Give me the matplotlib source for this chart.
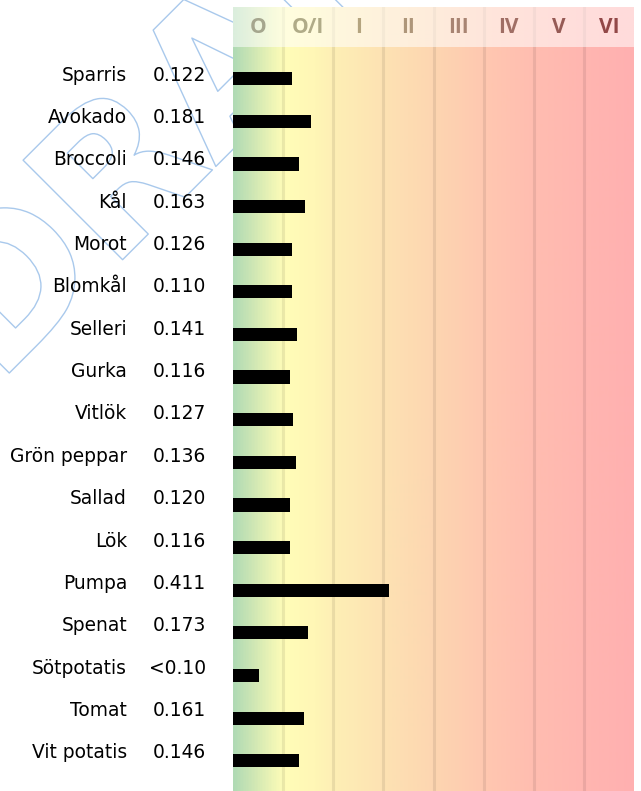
import numpy as np
import matplotlib
matplotlib.use("Agg")
import matplotlib.pyplot as plt
from matplotlib.colors import LinearSegmentedColormap, Normalize
from matplotlib.patches import Rectangle
from matplotlib import patheffects
from matplotlib.transforms import blended_transform_factory

names = ["Sparris", "Avokado", "Broccoli", "Kål", "Morot", "Blomkål", "Selleri",
         "Gurka", "Vitlök", "Grön peppar", "Sallad", "Lök", "Pumpa", "Spenat",
         "Sötpotatis", "Tomat", "Vit potatis"]
value_labels = ["0.122", "0.181", "0.146", "0.163", "0.126", "0.110", "0.141",
                "0.116", "0.127", "0.136", "0.120", "0.116", "0.411", "0.173",
                "<0.10", "0.161", "0.146"]
# bar length in class-column units
bar_len = [1.17, 1.55, 1.31, 1.43, 1.18, 1.18, 1.27, 1.13, 1.20, 1.25, 1.14,
           1.13, 3.11, 1.50, 0.51, 1.42, 1.31]

classes = ["O", "O/I", "I", "II", "III", "IV", "V", "VI"]
class_colors = ["#a5a68e", "#b0ab88", "#b4a47f", "#ae967a", "#a88472", "#a06e65",
                "#965a55", "#924848"]

bg_cmap = LinearSegmentedColormap.from_list("bg", [
    (0 / 8, "#b0dab4"), (0.5 / 8, "#d8ebb4"), (1 / 8, "#fffdb8"),
    (1.6 / 8, "#fff7b6"), (2 / 8, "#feefb5"), (3 / 8, "#fde2b3"),
    (4 / 8, "#fdd6b1"), (5 / 8, "#ffc8b0"), (6 / 8, "#ffbdb0"),
    (7 / 8, "#ffb6b0"), (8 / 8, "#ffb0b0")])

W, H = 641, 791
fig = plt.figure(figsize=(W / 100, H / 100), dpi=100)

# watermark behind everything
fig.text(0.334, 0.883, "DRAFT", rotation=45, ha="center", va="center",
         fontsize=139, fontweight="bold", color="none", zorder=-1,
         path_effects=[patheffects.Stroke(linewidth=1, foreground="#a9c9ec")])

ax = fig.add_axes([233 / W, 0, 401 / W, 1 - 47 / H])
hx = fig.add_axes([233 / W, 1 - 47 / H, 401 / W, 40 / H])

grad = np.linspace(0, 8, 400).reshape(1, -1)
y_top, y_bot = -0.744, 16.71
ax.imshow(grad, cmap=bg_cmap, norm=Normalize(0, 8), aspect="auto",
          extent=(0, 8, y_bot, y_top), zorder=0)
hx.imshow(grad, cmap=bg_cmap, norm=Normalize(0, 8), aspect="auto",
          extent=(0, 8, 0, 1), zorder=0)

for k in range(1, 8):
    ax.axvline(k, color="black", alpha=0.08, lw=2.2, zorder=1)
    hx.axvline(k, color="black", alpha=0.08, lw=2.2, zorder=1)

hx.add_patch(Rectangle((0, 0), 8, 1, facecolor="white", alpha=0.55,
                       edgecolor="none", zorder=2))
for k, c in enumerate(classes):
    hx.text(k + 0.5, 0.48, c, ha="center", va="center", fontsize=15,
            fontweight="bold", family="Open Sans", color=class_colors[k], zorder=3)

ypos = np.arange(len(names))
ax.barh(ypos, bar_len, height=0.31, color="black", zorder=3)

trans = blended_transform_factory(fig.transFigure, ax.transData)
for i in range(len(names)):
    ty = i * 0.994 - 0.087
    ax.text(127 / W, ty, names[i], transform=trans, ha="right",
            va="center", fontsize=13.4, clip_on=False)
    ax.text(206 / W, ty, value_labels[i], transform=trans, ha="right",
            va="center", fontsize=13.4, clip_on=False)

ax.set_xlim(0, 8)
ax.set_ylim(y_bot, y_top)
hx.set_xlim(0, 8)
hx.set_ylim(0, 1)
ax.axis("off")
hx.axis("off")

fig.savefig("out.png", dpi=100)
